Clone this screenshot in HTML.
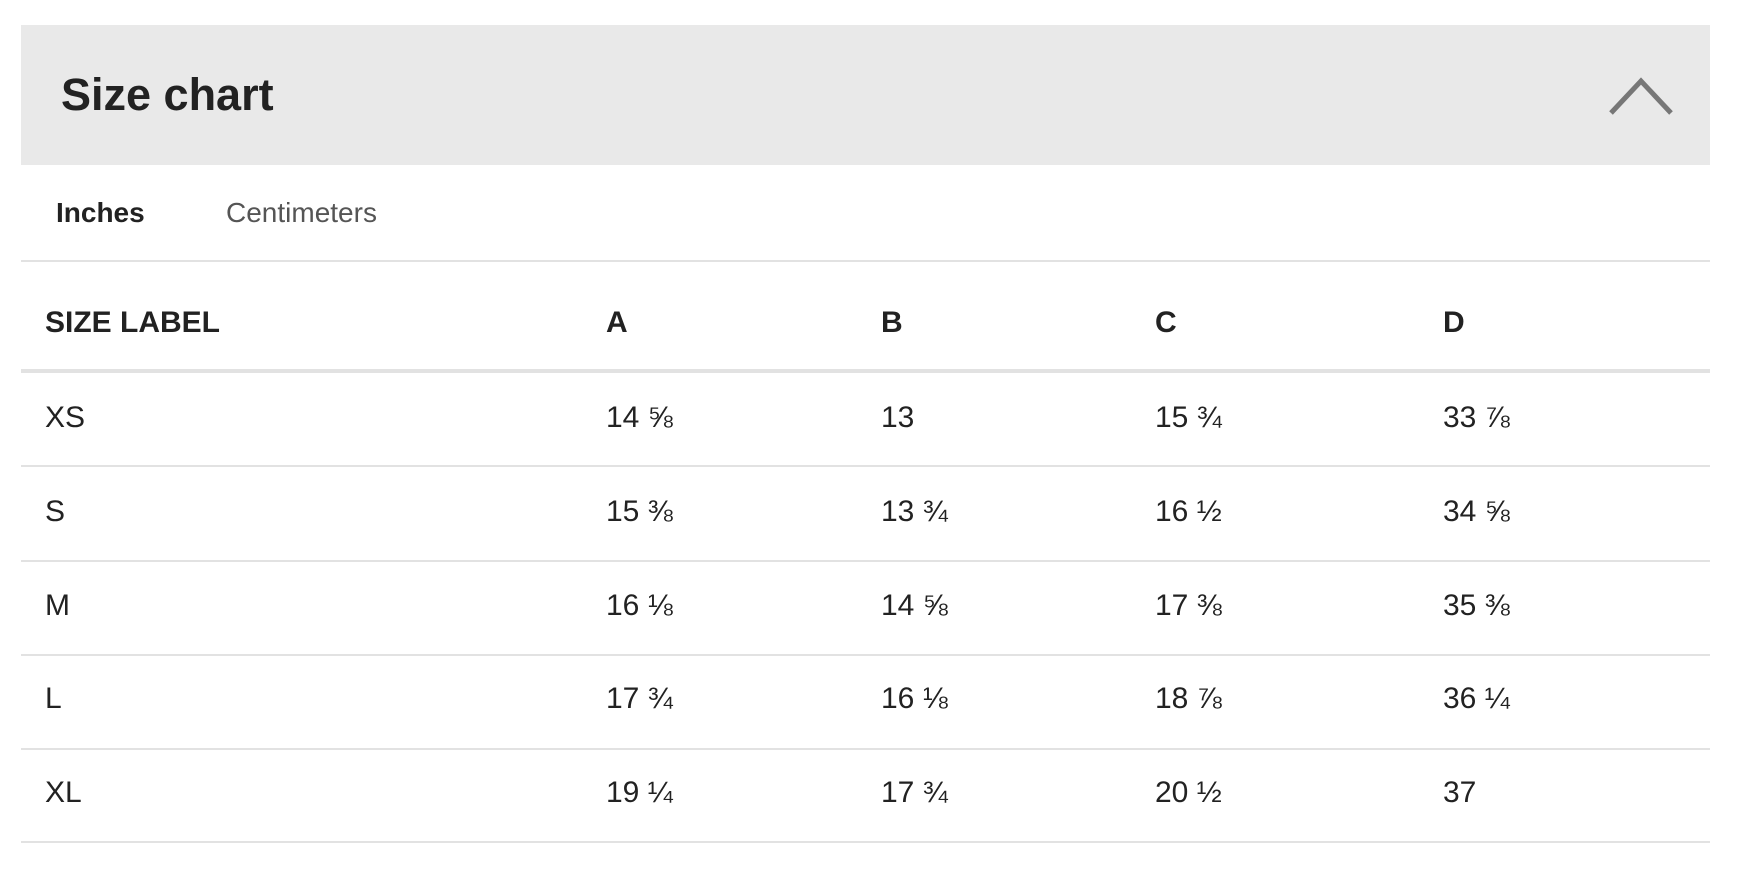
<!DOCTYPE html>
<html><head><meta charset="utf-8"><style>
body{margin:0;width:1746px;height:874px;background:#fff;font-family:"Liberation Sans",sans-serif;color:#222;position:relative;overflow:hidden}
.a{position:absolute;white-space:nowrap}
.hdr{position:absolute;left:21px;top:25px;width:1689px;height:140px;background:#e9e9e9}
.line{position:absolute;left:21px;width:1689px;height:2px;background:#e2e2e2}
.t{font-size:30px;transform:translateY(-50%)}
.h{font-size:30px;font-weight:bold;transform:translateY(-50%)}
</style></head><body>
<div class="hdr"></div>
<div class="a" style="left:61px;top:95px;font-size:45px;font-weight:bold;transform:translateY(-50%)">Size chart</div>
<svg class="a" style="left:1606px;top:71px" width="70" height="50"><polyline points="5,42 35,10 65,42" fill="none" stroke="#777" stroke-width="5"/></svg>
<div class="a" style="left:56px;top:213px;font-size:28px;font-weight:bold;transform:translateY(-50%)">Inches</div>
<div class="a" style="left:226px;top:213px;font-size:28px;color:#555;transform:translateY(-50%)">Centimeters</div>
<div class="line" style="top:260px"></div>
<div class="a h" style="left:45px;top:323px">SIZE LABEL</div>
<div class="a h" style="left:606px;top:323px">A</div>
<div class="a h" style="left:881px;top:323px">B</div>
<div class="a h" style="left:1155px;top:323px">C</div>
<div class="a h" style="left:1443px;top:323px">D</div>
<div class="line" style="top:369px;height:4px"></div>
<div class="line" style="top:465px"></div>
<div class="line" style="top:560px"></div>
<div class="line" style="top:654px"></div>
<div class="line" style="top:748px"></div>
<div class="line" style="top:841px"></div>
<div class="a t" style="left:45px;top:418px">XS</div><div class="a t" style="left:606px;top:418px">14 ⅝</div><div class="a t" style="left:881px;top:418px">13</div><div class="a t" style="left:1155px;top:418px">15 ¾</div><div class="a t" style="left:1443px;top:418px">33 ⅞</div>
<div class="a t" style="left:45px;top:512px">S</div><div class="a t" style="left:606px;top:512px">15 ⅜</div><div class="a t" style="left:881px;top:512px">13 ¾</div><div class="a t" style="left:1155px;top:512px">16 ½</div><div class="a t" style="left:1443px;top:512px">34 ⅝</div>
<div class="a t" style="left:45px;top:606px">M</div><div class="a t" style="left:606px;top:606px">16 ⅛</div><div class="a t" style="left:881px;top:606px">14 ⅝</div><div class="a t" style="left:1155px;top:606px">17 ⅜</div><div class="a t" style="left:1443px;top:606px">35 ⅜</div>
<div class="a t" style="left:45px;top:699px">L</div><div class="a t" style="left:606px;top:699px">17 ¾</div><div class="a t" style="left:881px;top:699px">16 ⅛</div><div class="a t" style="left:1155px;top:699px">18 ⅞</div><div class="a t" style="left:1443px;top:699px">36 ¼</div>
<div class="a t" style="left:45px;top:793px">XL</div><div class="a t" style="left:606px;top:793px">19 ¼</div><div class="a t" style="left:881px;top:793px">17 ¾</div><div class="a t" style="left:1155px;top:793px">20 ½</div><div class="a t" style="left:1443px;top:793px">37</div>
</body></html>
